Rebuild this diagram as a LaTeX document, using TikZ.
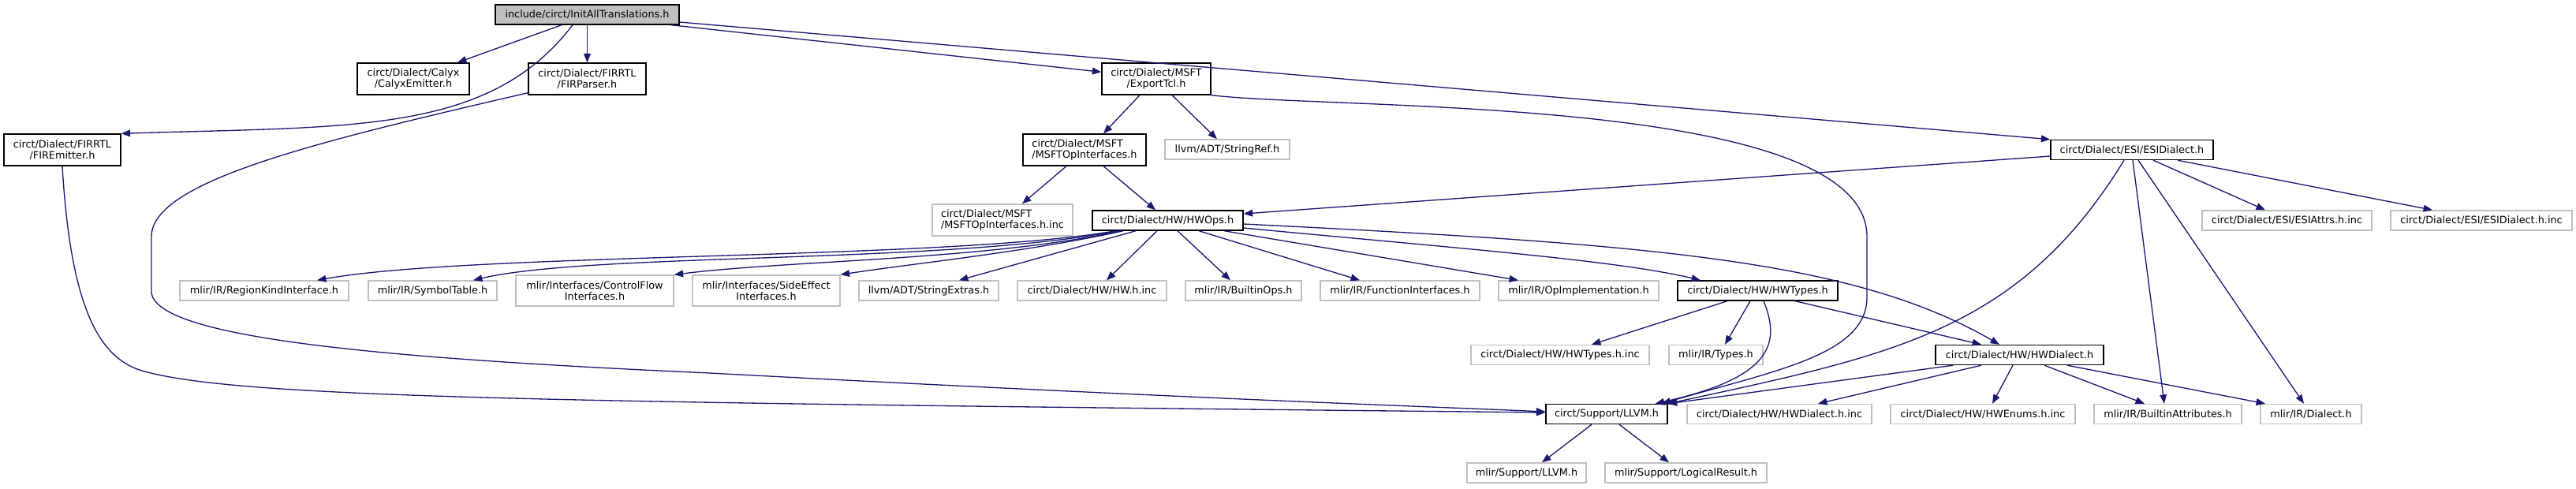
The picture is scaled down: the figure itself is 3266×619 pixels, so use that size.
\documentclass[tikz,border=0pt]{standalone}
\usepackage{fontspec}
\setmainfont{DejaVu Sans}
\usetikzlibrary{arrows.meta, calc}
\definecolor{edgeblue}{HTML}{191970}
\definecolor{grey75}{HTML}{BFBFBF}
\tikzset{
  font=\fontsize{7.3}{7.95}\selectfont,
  >={Triangle[length=6.5pt, width=5pt]},
  %
  doc/.style={draw=black, line width=0.8pt, fill=white, inner sep=1pt,
              align=center, minimum height=0.5cm},
  undoc/.style={doc, draw=grey75},
  rootnode/.style={doc, fill=grey75},
  twoline/.style={minimum height=0.8cm},
  %
  dep/.style={draw=edgeblue, line width=0.75pt, ->},
}
\begin{document}
\begin{tikzpicture}[x=0.02cm, y=-0.02cm]
\useasboundingbox (0,0) rectangle (3266,619);

% =========================================================================
% nodes
\node[rootnode, minimum width=4.66cm] (root) at (744.5,18.5) {include/circt/InitAllTranslations.h};

\node[doc, twoline, minimum width=2.84cm] (calyx) at (524,100) {circt/Dialect/Calyx\\/CalyxEmitter.h};
\node[doc, twoline, minimum width=2.98cm] (firparser) at (744.5,100) {circt/Dialect/FIRRTL\\/FIRParser.h};
\node[doc, twoline, minimum width=2.96cm] (firemitter) at (79,190) {circt/Dialect/FIRRTL\\/FIREmitter.h};
\node[doc, twoline, minimum width=2.76cm] (exporttcl) at (1466,100) {circt/Dialect/MSFT\\/ExportTcl.h};
\node[doc, twoline, minimum width=3.12cm, align=left] (msftopif) at (1375,190) {circt/Dialect/MSFT\\/MSFTOpInterfaces.h};
\node[undoc, minimum width=3.16cm] (stringref) at (1556,189.5) {llvm/ADT/StringRef.h};
\node[undoc, twoline, minimum width=3.56cm, align=left] (msftinc) at (1271,279) {circt/Dialect/MSFT\\/MSFTOpInterfaces.h.inc};
\node[doc, minimum width=3.82cm] (hwops) at (1480.5,279.5) {circt/Dialect/HW/HWOps.h};
\node[doc, minimum width=4.12cm] (esidialect) at (2703,190) {circt/Dialect/ESI/ESIDialect.h};
\node[undoc, minimum width=4.30cm] (esiattrs) at (2899.5,279.5) {circt/Dialect/ESI/ESIAttrs.h.inc};
\node[undoc, minimum width=4.60cm] (esidialinc) at (3146,279.5) {circt/Dialect/ESI/ESIDialect.h.inc};

\node[undoc, minimum width=4.28cm] (regionkind) at (335,368.5) {mlir/IR/RegionKindInterface.h};
\node[undoc, minimum width=3.26cm] (symboltable) at (548.5,368.5) {mlir/IR/SymbolTable.h};
\node[undoc, minimum width=4.00cm, minimum height=0.78cm] (controlflow) at (754,368.5) {mlir/Interfaces/ControlFlow\\Interfaces.h};
\node[undoc, minimum width=3.74cm, minimum height=0.78cm] (sideeffect) at (971.5,368.5) {mlir/Interfaces/SideEffect\\Interfaces.h};
\node[undoc, minimum width=3.54cm] (stringextras) at (1177.5,368.5) {llvm/ADT/StringExtras.h};
\node[undoc, minimum width=3.78cm] (hwinc) at (1384.5,368.5) {circt/Dialect/HW/HW.h.inc};
\node[undoc, minimum width=2.94cm] (builtinops) at (1576.5,368.5) {mlir/IR/BuiltinOps.h};
\node[undoc, minimum width=4.04cm] (funcif) at (1775,368.5) {mlir/IR/FunctionInterfaces.h};
\node[undoc, minimum width=4.06cm] (opimpl) at (2001.5,368.5) {mlir/IR/OpImplementation.h};
\node[doc, minimum width=4.06cm] (hwtypes) at (2228.5,368.5) {circt/Dialect/HW/HWTypes.h};

\node[undoc, minimum width=4.52cm] (hwtypesinc) at (1978,450) {circt/Dialect/HW/HWTypes.h.inc};
\node[undoc, minimum width=2.38cm] (types) at (2175.5,450) {mlir/IR/Types.h};
\node[doc, minimum width=4.26cm] (hwdialect) at (2560.5,450) {circt/Dialect/HW/HWDialect.h};

\node[doc, minimum width=3.08cm] (llvm) at (2037,525) {circt/Support/LLVM.h};
\node[undoc, minimum width=4.68cm] (hwdialinc) at (2256,525) {circt/Dialect/HW/HWDialect.h.inc};
\node[undoc, minimum width=4.68cm] (hwenums) at (2514,525) {circt/Dialect/HW/HWEnums.h.inc};
\node[undoc, minimum width=3.74cm] (builtinattrs) at (2748.5,525) {mlir/IR/BuiltinAttributes.h};
\node[undoc, minimum width=2.56cm] (dialect) at (2930,525) {mlir/IR/Dialect.h};

\node[undoc, minimum width=3.02cm] (supllvm) at (1935.5,599.5) {mlir/Support/LLVM.h};
\node[undoc, minimum width=4.10cm] (logicalresult) at (2137.5,599.5) {mlir/Support/LogicalResult.h};

% =========================================================================
% from the root
\draw[dep] ($(root.south)+(-32.5,0)$) -- ($(calyx.north)+(56,0)$);
\draw[dep] ($(root.south)+(-18.5,0)$) .. controls (620,170) and (450,160) .. (firemitter.north east);
\draw[dep] (root) -- (firparser);
\draw[dep] ($(root.south east)+(-11,0)$) -- ($(exporttcl.north west)+(0,12)$);
\draw[dep] ($(root.east)+(0,9.5)$) -- (esidialect.north west);

% FIRRTL headers down to LLVM.h
\draw[dep] ($(firparser.south west)+(0,-3)$) .. controls (400,180) and (192,230) .. (192,300)
  -- (192,370) .. controls (195,430) and (500,455) .. (900,473)
  .. controls (1500,505) and (1800,515) .. ($(llvm.west)+(0,-3)$);
\draw[dep] (firemitter.south) .. controls (90,400) and (130,455) .. (180,470)
  .. controls (300,505) and (700,510) .. ($(llvm.west)+(0,-2)$);

% =========================================================================
% MSFT
\draw[dep] ($(exporttcl.south)+(-21,0)$) -- ($(msftopif.north)+(24,0)$);
\draw[dep] ($(exporttcl.south)+(20,0)$) -- ($(stringref.north)+(-13,0)$);
\draw[dep] (exporttcl.south east) .. controls (1700,140) and (2367,120) .. (2367,300)
  -- (2367,377) .. controls (2367,450) and (2250,470) .. ($(llvm.north east)+(-8,0)$);
\draw[dep] ($(msftopif.south)+(-23,0)$) -- ($(msftinc.north)+(25,0)$);
\draw[dep] ($(msftopif.south)+(24,0)$) -- ($(hwops.north)+(-15.5,0)$);

% =========================================================================
% ESI
\draw[dep] ($(esidialect.west)+(0,8)$) -- ($(hwops.east)+(0,-8.5)$);
\draw[dep] ($(esidialect.south)+(-10,0)$) .. controls (2560,420) and (2400,450) .. (llvm.north east);
\draw[dep] ($(esidialect.south)+(1,0)$) -- ($(builtinattrs.north)+(-4.5,0)$);
\draw[dep] ($(esidialect.south)+(8,0)$) -- ($(dialect.north)+(-9,0)$);
\draw[dep] ($(esidialect.south)+(27,0)$) -- ($(esiattrs.north)+(-27.5,0)$);
\draw[dep] ($(esidialect.south)+(58,0)$) -- ($(esidialinc.north)+(-62,0)$);

% =========================================================================
% HWOps fan out
\draw[dep] ($(hwops.south west)+(30,0)$) .. controls (1200,330) and (600,320) .. ($(regionkind.north)+(67,0)$);
\draw[dep] ($(hwops.south west)+(33,0)$) .. controls (1200,335) and (750,320) .. ($(symboltable.north)+(51.5,0)$);
\draw[dep] ($(hwops.south west)+(37,0)$) .. controls (1250,330) and (1000,330) .. (controlflow.north east);
\draw[dep] ($(hwops.south west)+(40,0)$) .. controls (1300,320) and (1150,335) .. (sideeffect.north east);
\draw[dep] ($(hwops.south)+(-40.5,0)$) -- ($(stringextras.north)+(38.5,0)$);
\draw[dep] ($(hwops.south)+(-13.5,0)$) -- ($(hwinc.north)+(18.5,0)$);
\draw[dep] ($(hwops.south)+(12.5,0)$) -- ($(builtinops.north)+(-16.5,0)$);
\draw[dep] ($(hwops.south)+(39.5,0)$) -- ($(funcif.north)+(-51,0)$);
\draw[dep] ($(hwops.south)+(71.5,0)$) -- ($(opimpl.north)+(-76.5,0)$);
\draw[dep] ($(hwops.east)+(0,9.5)$) .. controls (1850,315) and (2050,330) .. ($(hwtypes.north)+(-72.5,0)$);
\draw[dep] ($(hwops.east)+(0,4.5)$) .. controls (2100,310) and (2350,330) .. ($(hwdialect.north)+(-25.5,0)$);

% HWTypes
\draw[dep] ($(hwtypes.south)+(-38.5,0)$) -- ($(hwtypesinc.north)+(40,0)$);
\draw[dep] ($(hwtypes.south)+(-9.5,0)$) -- ($(types.north)+(11.5,0)$);
\draw[dep] ($(hwtypes.south)+(7.5,0)$) .. controls (2260,440) and (2240,480) .. ($(llvm.north east)+(-16,0)$);
\draw[dep] ($(hwtypes.south)+(47.5,0)$) -- ($(hwdialect.north)+(-48.5,0)$);

% HWDialect
\draw[dep] ($(hwdialect.south west)+(23,0)$) -- (llvm.north east);
\draw[dep] ($(hwdialect.south)+(-48.5,0)$) -- ($(hwdialinc.north)+(49,0)$);
\draw[dep] ($(hwdialect.south)+(-8.5,0)$) -- ($(hwenums.north)+(12,0)$);
\draw[dep] ($(hwdialect.south)+(31.5,0)$) -- ($(builtinattrs.north)+(-29.5,0)$);
\draw[dep] ($(hwdialect.south)+(60.5,0)$) -- ($(dialect.north)+(-58,0)$);

% LLVM.h
\draw[dep] ($(llvm.south)+(-19,0)$) -- ($(supllvm.north)+(19.5,0)$);
\draw[dep] ($(llvm.south)+(16,0)$) -- ($(logicalresult.north)+(-21.5,0)$);

\end{tikzpicture}
\end{document}
